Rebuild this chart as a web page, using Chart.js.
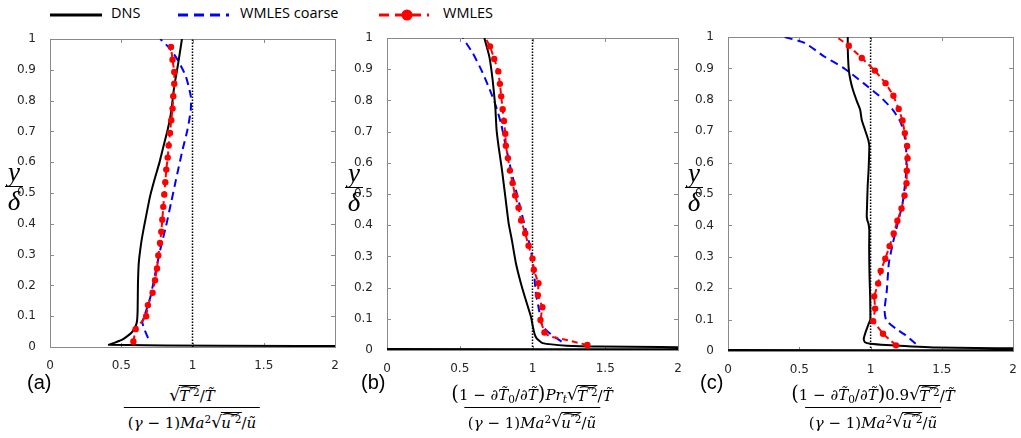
<!DOCTYPE html>
<html><head><meta charset="utf-8">
<script src="https://cdn.jsdelivr.net/npm/chart.js@4/dist/chart.umd.min.js"></script>
<style>
html,body{margin:0;padding:0;background:#fff;width:1021px;height:438px;overflow:hidden;position:relative}
canvas{position:absolute}
.leg{position:absolute;font-family:'Open Sans',sans-serif;font-size:14.5px;color:#000;line-height:1}
.lsym{position:absolute}
.plab{position:absolute;font-family:'Liberation Sans',sans-serif;font-size:20px;color:#000;line-height:1}
.ytit{position:absolute;font-family:'Liberation Serif',serif;font-style:italic;font-size:27px;display:flex;flex-direction:column;align-items:center;transform:translateX(-50%);line-height:0.95}
.ytit .yb{border-top:1.6px solid #000;width:18px;padding-top:2px;text-align:center}
.frac{position:absolute;font-family:'DejaVu Serif',serif;font-size:15px;display:flex;flex-direction:column;align-items:center;transform:translateX(-50%);line-height:1;white-space:nowrap;color:#000}
.frac .num{padding:0 4px 3px;display:flex;align-items:flex-end}
.frac .den{border-top:1.2px solid #000;padding:4px 4px 0;display:flex;align-items:flex-end}
.rad{display:inline-flex;align-items:flex-end;white-space:nowrap}
.rs{font-size:1.15em;font-style:normal}
.rc{display:inline-block;border-top:1px solid #000;padding-top:3px;margin-left:-1px}
.wt{position:relative;display:inline-block}
.wt::before{content:'~';position:absolute;left:0;right:0;top:-0.62em;text-align:center;transform:scaleX(2.0);font-style:normal;font-size:0.85em}
sup{font-size:0.7em;vertical-align:0.45em;line-height:0}
sub{font-size:0.7em;vertical-align:-0.25em;line-height:0}
.big{font-size:1.3em;font-style:normal;line-height:1}
</style></head>
<body>
<!-- legend -->
<svg class="lsym" style="left:50px;top:8px" width="54" height="14"><line x1="0" y1="7" x2="52" y2="7" stroke="#000" stroke-width="3"/></svg>
<div class="leg" style="left:111px;top:6px">DNS</div>
<svg class="lsym" style="left:178px;top:8px" width="54" height="14"><line x1="0" y1="7" x2="51" y2="7" stroke="#0000ff" stroke-width="3" stroke-dasharray="10,6"/></svg>
<div class="leg" style="left:240px;top:6px">WMLES coarse</div>
<svg class="lsym" style="left:379px;top:5px" width="54" height="20"><line x1="0" y1="10" x2="50" y2="10" stroke="#ff0000" stroke-width="3" stroke-dasharray="10,6"/><circle cx="28" cy="10" r="5.5" fill="#ff0000"/></svg>
<div class="leg" style="left:443px;top:6px">WMLES</div>

<canvas id="ca" width="345" height="375" style="left:0;top:0"></canvas>
<canvas id="cb" width="351" height="378" style="left:337px;top:0"></canvas>
<canvas id="cc" width="343" height="379" style="left:678px;top:0"></canvas>

<div class="ytit" style="left:14px;top:160px"><span>y</span><span class="yb">δ</span></div>
<div class="ytit" style="left:354px;top:161px"><span>y</span><span class="yb">δ</span></div>
<div class="ytit" style="left:694px;top:161px"><span>y</span><span class="yb">δ</span></div>

<div class="plab" style="left:27px;top:372px">(a)</div>
<div class="plab" style="left:361px;top:372px">(b)</div>
<div class="plab" style="left:700px;top:372px">(c)</div>

<div class="frac" style="left:192px;top:385px">
 <div class="num"><span class="rad"><span class="rs">√</span><span class="rc"><span class="wt"><i>T</i><sup>″2</sup></span></span></span><span>/<i>T̃</i></span></div>
 <div class="den"><span>(<i>γ</i> − 1)<i>Ma</i><sup>2</sup></span><span class="rad"><span class="rs">√</span><span class="rc"><span class="wt"><i>u</i><sup>″2</sup></span></span></span><span>/<i>ũ</i></span></div>
</div>
<div class="frac" style="left:532px;top:384px">
 <div class="num"><span><span class="big">(</span>1 − ∂<i>T̃</i><sub>0</sub>/∂<i>T̃</i><span class="big">)</span><i>Pr</i><sub><i>t</i></sub></span><span class="rad"><span class="rs">√</span><span class="rc"><span class="wt"><i>T</i><sup>″2</sup></span></span></span><span>/<i>T̃</i></span></div>
 <div class="den"><span>(<i>γ</i> − 1)<i>Ma</i><sup>2</sup></span><span class="rad"><span class="rs">√</span><span class="rc"><span class="wt"><i>u</i><sup>″2</sup></span></span></span><span>/<i>ũ</i></span></div>
</div>
<div class="frac" style="left:873px;top:384px">
 <div class="num"><span><span class="big">(</span>1 − ∂<i>T̃</i><sub>0</sub>/∂<i>T̃</i><span class="big">)</span>0.9</span><span class="rad"><span class="rs">√</span><span class="rc"><span class="wt"><i>T</i><sup>″2</sup></span></span></span><span>/<i>T̃</i></span></div>
 <div class="den"><span>(<i>γ</i> − 1)<i>Ma</i><sup>2</sup></span><span class="rad"><span class="rs">√</span><span class="rc"><span class="wt"><i>u</i><sup>″2</sup></span></span></span><span>/<i>ũ</i></span></div>
</div>

<script>
// ---------- data ----------
const xTickVals = [0, 0.5, 1, 1.5, 2];
const yTickVals = [0, 0.1, 0.2, 0.3, 0.4, 0.5, 0.6, 0.7, 0.8, 0.9, 1];
const refLineX = [1, 1];
const refLineY = [0, 1];

// Panel (a)
const dnsA_x = [2.3, 1.2, 0.413, 0.443, 0.5, 0.536, 0.575, 0.598, 0.61, 0.615, 0.617, 0.623, 0.64, 0.656, 0.674, 0.702, 0.733, 0.767, 0.802, 0.826, 0.849, 0.872, 0.9, 0.926];
const dnsA_y = [0.003, 0.004, 0.007, 0.012, 0.022, 0.033, 0.048, 0.065, 0.082, 0.12, 0.2, 0.273, 0.338, 0.381, 0.424, 0.489, 0.543, 0.597, 0.662, 0.706, 0.76, 0.846, 0.922, 1.0];
const crsA_x = [0.688, 0.665, 0.648, 0.662, 0.676, 0.706, 0.744, 0.779, 0.814, 0.849, 0.884, 0.93, 0.965, 0.988, 0.988, 0.953, 0.895, 0.837, 0.774];
const crsA_y = [0.029, 0.055, 0.08, 0.1, 0.12, 0.165, 0.251, 0.327, 0.392, 0.467, 0.543, 0.64, 0.706, 0.77, 0.814, 0.879, 0.933, 0.971, 1.0];
const wmA_x = [0.585, 0.601, 0.675, 0.687, 0.72, 0.737, 0.751, 0.76, 0.772, 0.781, 0.788, 0.795, 0.802, 0.809, 0.816, 0.826, 0.833, 0.842, 0.851, 0.86, 0.865, 0.872, 0.872, 0.86, 0.849];
const wmA_y = [0.018, 0.058, 0.1, 0.136, 0.176, 0.217, 0.255, 0.297, 0.338, 0.374, 0.413, 0.455, 0.495, 0.535, 0.576, 0.615, 0.654, 0.695, 0.736, 0.774, 0.814, 0.855, 0.893, 0.933, 0.974];

// Panel (b)
const dnsB_x = [-0.1, 2.3, 2.3, 1.46, 1.235, 1.07, 1.029, 1.015, 1.003, 0.989, 0.954, 0.92, 0.886, 0.858, 0.836, 0.813, 0.79, 0.767, 0.753, 0.744, 0.726, 0.703, 0.669];
const dnsB_y = [0.003, 0.003, 0.008, 0.011, 0.014, 0.022, 0.037, 0.05, 0.074, 0.107, 0.16, 0.214, 0.278, 0.353, 0.406, 0.492, 0.578, 0.652, 0.706, 0.781, 0.866, 0.941, 1.0];
const crsB_x = [1.2, 1.12, 1.08, 1.051, 1.047, 1.023, 1.011, 0.989, 0.954, 0.92, 0.886, 0.852, 0.817, 0.783, 0.749, 0.715, 0.658, 0.589, 0.521];
const crsB_y = [0.027, 0.053, 0.07, 0.096, 0.123, 0.182, 0.246, 0.321, 0.385, 0.449, 0.513, 0.578, 0.652, 0.727, 0.781, 0.824, 0.888, 0.952, 1.0];
const wmB_x = [1.377, 1.235, 1.12, 1.082, 1.055, 1.068, 1.037, 1.041, 1.009, 1.0, 0.973, 0.95, 0.922, 0.904, 0.881, 0.863, 0.845, 0.831, 0.817, 0.813, 0.804, 0.795, 0.785, 0.776, 0.765, 0.737, 0.708, 0.676];
const wmB_y = [0.016, 0.032, 0.043, 0.056, 0.096, 0.137, 0.176, 0.214, 0.257, 0.293, 0.334, 0.374, 0.415, 0.456, 0.495, 0.535, 0.575, 0.615, 0.655, 0.693, 0.734, 0.772, 0.813, 0.853, 0.893, 0.933, 0.973, 1.0];
const wmB_marker = [1, 0, 0, 1, 1, 1, 1, 1, 1, 1, 1, 1, 1, 1, 1, 1, 1, 1, 1, 1, 1, 1, 1, 1, 1, 1, 1, 0];

// Panel (c)
const dnsC_x = [-0.1, 2.3, 2.3, 1.46, 1.11, 1.0, 0.96, 0.952, 0.965, 0.985, 0.998, 0.997, 0.993, 0.991, 0.99, 0.991, 0.985, 0.978, 0.973, 0.975, 0.977, 0.98, 0.986, 0.991, 0.984, 0.961, 0.938, 0.927, 0.904, 0.876, 0.858, 0.847, 0.84, 0.84];
const dnsC_y = [0.003, 0.003, 0.007, 0.011, 0.019, 0.023, 0.028, 0.038, 0.06, 0.085, 0.1, 0.172, 0.23, 0.279, 0.33, 0.385, 0.406, 0.415, 0.428, 0.46, 0.491, 0.53, 0.577, 0.651, 0.672, 0.704, 0.736, 0.768, 0.795, 0.832, 0.864, 0.896, 0.96, 1.0];
const crsC_x = [1.316, 1.247, 1.178, 1.11, 1.098, 1.114, 1.128, 1.156, 1.19, 1.224, 1.247, 1.252, 1.243, 1.213, 1.156, 1.064, 0.95, 0.812, 0.675, 0.538, 0.396];
const crsC_y = [0.023, 0.05, 0.071, 0.098, 0.13, 0.194, 0.279, 0.343, 0.406, 0.47, 0.555, 0.619, 0.672, 0.726, 0.768, 0.811, 0.853, 0.901, 0.938, 0.981, 1.0];
const wmC_x = [1.178, 1.087, 1.018, 1.032, 1.025, 1.053, 1.071, 1.103, 1.133, 1.162, 1.188, 1.217, 1.238, 1.252, 1.254, 1.259, 1.256, 1.24, 1.224, 1.197, 1.16, 1.105, 1.03, 0.938, 0.847, 0.762];
const wmC_y = [0.018, 0.055, 0.095, 0.135, 0.174, 0.215, 0.255, 0.294, 0.334, 0.374, 0.415, 0.454, 0.495, 0.534, 0.574, 0.614, 0.653, 0.694, 0.734, 0.771, 0.813, 0.853, 0.893, 0.933, 0.972, 1.0];
const wmC_marker = [1,1,1,1,1,1,1,1,1,1,1,1,1,1,1,1,1,1,1,1,1,1,1,1,1,0];

// ---------- helpers ----------
const zip = (xs, ys) => xs.map((x, i) => ({x: x, y: ys[i]}));

Chart.defaults.font.family = "'DejaVu Sans', sans-serif";
Chart.defaults.font.size = 12;
Chart.defaults.color = '#262626';

const boxPlugin = {
  id: 'boxTicks',
  beforeDatasetsDraw(chart) {
    const {ctx, chartArea: a, scales} = chart;
    ctx.save();
    ctx.strokeStyle = '#8a8a8a';
    ctx.lineWidth = 1;
    ctx.strokeRect(Math.round(a.left) + 0.5, Math.round(a.top) + 0.5, Math.round(a.right - a.left), Math.round(a.bottom - a.top));
    ctx.beginPath();
    const L = 4;
    xTickVals.forEach(v => {
      const px = Math.round(scales.x.getPixelForValue(v)) + 0.5;
      ctx.moveTo(px, a.bottom); ctx.lineTo(px, a.bottom - L);
      ctx.moveTo(px, a.top); ctx.lineTo(px, a.top + L);
    });
    yTickVals.forEach(v => {
      const py = Math.round(scales.y.getPixelForValue(v)) + 0.5;
      ctx.moveTo(a.left, py); ctx.lineTo(a.left + L, py);
      ctx.moveTo(a.right, py); ctx.lineTo(a.right - L, py);
    });
    ctx.stroke();
    ctx.restore();
  }
};

function makePanel(id, padTop, padRight, xAxisH, dns, crs, wm, wmMarker) {
  const radii = wm.map((p, i) => (wmMarker ? (wmMarker[i] ? 3.2 : 0) : 3.2));
  new Chart(document.getElementById(id), {
    type: 'scatter',
    data: {
      datasets: [
        {data: wm, showLine: true, borderColor: '#ff0000', backgroundColor: '#ff0000', borderWidth: 2,
         borderDash: [6, 4], pointRadius: radii, pointBorderWidth: 0, tension: 0},
        {data: dns, showLine: true, borderColor: '#000000', borderWidth: 2, pointRadius: 0, tension: 0.15},
        {data: crs, showLine: true, borderColor: '#0000ff', borderWidth: 2, borderDash: [8, 5], pointRadius: 0, tension: 0.2},
        {data: zip(refLineX, refLineY), showLine: true, borderColor: '#000000', borderWidth: 1.5, borderDash: [1.5, 1.5], pointRadius: 0}
      ]
    },
    options: {
      responsive: false,
      animation: false,
      events: [],
      layout: {padding: {top: padTop, right: padRight, left: 0, bottom: 0}},
      plugins: {legend: {display: false}, tooltip: {enabled: false}},
      scales: {
        x: {
          type: 'linear', min: 0, max: 2,
          grid: {display: false},
          border: {display: false},
          afterBuildTicks: s => { s.ticks = xTickVals.map(v => ({value: v})); },
          afterFit: s => { s.height = xAxisH; },
          ticks: {padding: 4, maxRotation: 0, callback: v => String(v)}
        },
        y: {
          type: 'linear', min: 0, max: 1,
          grid: {display: false},
          border: {display: false},
          afterBuildTicks: s => { s.ticks = yTickVals.map(v => ({value: v})); },
          afterFit: s => { s.width = 50; },
          ticks: {padding: 6, callback: v => String(Math.round(v * 10) / 10)}
        }
      }
    },
    plugins: [boxPlugin]
  });
}

makePanel('ca', 39, 10, 28, zip(dnsA_x, dnsA_y), zip(crsA_x, crsA_y), zip(wmA_x, wmA_y), null);
makePanel('cb', 38, 10, 28, zip(dnsB_x, dnsB_y), zip(crsB_x, crsB_y), zip(wmB_x, wmB_y), wmB_marker);
makePanel('cc', 37, 2, 28, zip(dnsC_x, dnsC_y), zip(crsC_x, crsC_y), zip(wmC_x, wmC_y), wmC_marker);
</script>
</body></html>
